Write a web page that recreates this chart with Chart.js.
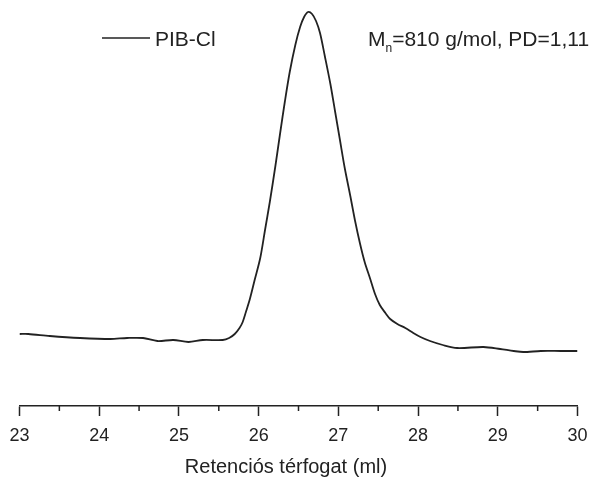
<!DOCTYPE html>
<html>
<head>
<meta charset="utf-8">
<script src="https://cdn.jsdelivr.net/npm/chart.js@4/dist/chart.umd.min.js"></script>
<style>
  body { margin: 0; background: #fff; overflow: hidden; }
  #wrap { width: 594px; height: 481px; }
</style>
</head>
<body>
<div id="wrap"><canvas id="gpcChart"></canvas></div>
<script>
// retention volume (ml) and detector signal (arbitrary units)
const retention = [23.0, 23.11, 23.38, 23.76, 24.14, 24.35, 24.55, 24.73, 24.93, 25.12, 25.30, 25.55,
  25.63, 25.70, 25.76, 25.80, 25.84, 25.89, 25.95, 26.02, 26.08, 26.14, 26.21, 26.27, 26.33,
  26.39, 26.46, 26.52, 26.57, 26.62, 26.67, 26.72, 26.77, 26.83, 26.90, 26.96, 27.02, 27.08,
  27.15, 27.21, 27.27, 27.33, 27.40, 27.46, 27.52, 27.59, 27.65, 27.74, 27.84, 27.94, 28.03,
  28.15, 28.31, 28.49, 28.82, 29.03, 29.20, 29.32, 29.54, 29.79, 30.0];
const signal = [72, 72, 70, 68, 67, 68, 68, 65, 66, 64, 66, 66,
  68, 72, 78, 84, 94, 107, 126, 148, 176, 204, 240, 273, 305,
  334, 361, 379, 389, 394, 392, 385, 373, 350, 322, 294, 266, 238,
  210, 185, 163, 144, 127, 112, 101, 93, 87, 82, 78, 73, 69,
  65, 61, 58, 59, 57, 55, 54, 55, 55, 55];

const minorTicks = [23.5, 24.5, 25.5, 26.5, 27.5, 28.5, 29.5];
const seriesLabel = "PIB-Cl";
const axisTitle = "Retenciós térfogat (ml)";

const fontFamily = "'Liberation Sans', Arial, sans-serif";
const ink = "#222";

const points = retention.map((v, i) => ({ x: v, y: signal[i] }));

// minor ticks, axis title, legend and the Mn/PD note
const extras = {
  id: "extras",
  afterDraw(chart) {
    const ctx = chart.ctx;
    const xs = chart.scales.x;
    const bottom = chart.chartArea.bottom;
    ctx.save();
    ctx.strokeStyle = ink;
    ctx.lineWidth = 1.5;
    minorTicks.forEach((v) => {
      const px = xs.getPixelForValue(v);
      ctx.beginPath();
      ctx.moveTo(px, bottom);
      ctx.lineTo(px, bottom + 5);
      ctx.stroke();
    });

    ctx.fillStyle = ink;
    ctx.font = "20px " + fontFamily;
    ctx.textAlign = "center";
    ctx.textBaseline = "middle";
    ctx.fillText(axisTitle, 286, 467);

    // legend
    ctx.textAlign = "left";
    ctx.textBaseline = "alphabetic";
    ctx.lineWidth = 1.6;
    ctx.beginPath();
    ctx.moveTo(102, 38);
    ctx.lineTo(150, 38);
    ctx.stroke();
    ctx.font = "21px " + fontFamily;
    ctx.fillText(seriesLabel, 155, 46);

    // Mn note
    let x = 368;
    ctx.fillText("M", x, 46);
    x += ctx.measureText("M").width;
    ctx.font = "12px " + fontFamily;
    ctx.fillText("n", x, 52);
    x += ctx.measureText("n").width;
    ctx.font = "21px " + fontFamily;
    ctx.fillText("=810 g/mol, PD=1,11", x, 46);
    ctx.restore();
  },
};

new Chart(document.getElementById("gpcChart"), {
  type: "line",
  data: {
    datasets: [
      {
        label: seriesLabel,
        data: points,
        borderColor: ink,
        borderWidth: 1.8,
        pointRadius: 0,
        fill: false,
        tension: 0.3,
      },
    ],
  },
  options: {
    responsive: true,
    maintainAspectRatio: false,
    animation: false,
    layout: { padding: { left: 19.5, right: 16.5, top: 6, bottom: 0 } },
    plugins: { legend: { display: false }, tooltip: { enabled: false } },
    scales: {
      x: {
        type: "linear",
        min: 23,
        max: 30,
        afterFit(scale) { scale.height = 75; },
        ticks: {
          stepSize: 1,
          color: ink,
          padding: 3,
          font: { size: 18, family: fontFamily, lineHeight: "34px" },
        },
        grid: { drawOnChartArea: false, tickLength: 10, tickColor: ink, tickWidth: 1.5 },
        border: { color: ink, width: 1.5 },
      },
      y: { display: false, min: 0, max: 400 },
    },
  },
  plugins: [extras],
});
</script>
</body>
</html>
